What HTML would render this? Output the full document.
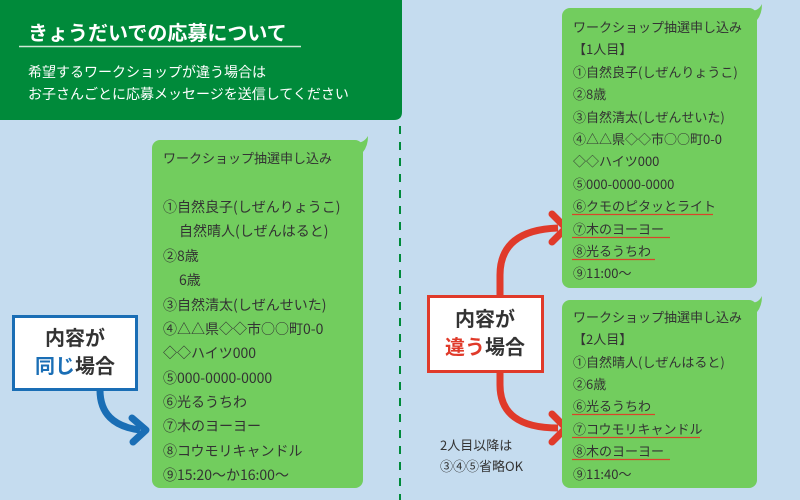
<!DOCTYPE html>
<html><head><meta charset="utf-8"><style>
body{margin:0;width:800px;height:500px;overflow:hidden;background:#c5dcef;}
svg{display:block;font-family:"Liberation Sans","Noto Sans CJK JP",sans-serif;}
.j{font-family:"Noto Sans CJK JP",sans-serif;}
</style></head><body>
<svg width="800" height="500" viewBox="0 0 800 500">
<rect width="800" height="500" fill="#c5dcef"/>
<path d="M0 0H402V112Q402 120 394 120H0Z" fill="#008a3a"/>
<text x="28" y="40" font-size="20" font-weight="bold" fill="#fff">きょうだいでの応募について</text>
<line x1="19" y1="46.5" x2="301" y2="46.5" stroke="#cfe8d6" stroke-width="1.5"/>
<text x="28" y="77" font-size="14" fill="#fff">希望するワークショップが違う場合は</text>
<text x="28" y="99" font-size="14" fill="#fff">お子さんごとに応募メッセージを送信してください</text>
<line x1="400" y1="126" x2="400" y2="500" stroke="#008a3a" stroke-width="2" stroke-dasharray="8 8"/>

<rect x="152" y="140" width="211" height="348" rx="8" fill="#72cd5e"/>
<path d="M350 141Q362 146 368 136Q368 146 363 152Z" fill="#72cd5e"/>
<g class="j" font-size="14" fill="#333">
<text x="163" y="163" font-size="13">ワークショップ抽選申し込み</text>
<text x="163" y="212">①自然良子(しぜんりょうこ)</text>
<text x="179" y="236">自然晴人(しぜんはると)</text>
<text x="163" y="261">②8歳</text>
<text x="179" y="285">6歳</text>
<text x="163" y="310">③自然清太(しぜんせいた)</text>
<text x="163" y="334">④△△県◇◇市○○町0-0</text>
<text x="163" y="358">◇◇ハイツ000</text>
<text x="163" y="383">⑤000-0000-0000</text>
<text x="163" y="407">⑥光るうちわ</text>
<text x="163" y="431">⑦木のヨーヨー</text>
<text x="163" y="456">⑧コウモリキャンドル</text>
<text x="163" y="480">⑨15:20〜か16:00〜</text>
</g>

<path d="M100 390Q100 425 140 430" fill="none" stroke="#1a6eb5" stroke-width="7"/>
<path d="M132 418L146 430L133 442" fill="none" stroke="#1a6eb5" stroke-width="7" stroke-linecap="round" stroke-linejoin="round"/>
<rect x="13.5" y="316.5" width="123" height="73" fill="#fff" stroke="#1a6eb5" stroke-width="3"/>
<text x="75" y="345" font-size="20" font-weight="bold" fill="#333" text-anchor="middle">内容が</text>
<text x="75" y="373" font-size="20" font-weight="bold" fill="#333" text-anchor="middle"><tspan fill="#1a6eb5">同じ</tspan>場合</text>

<path d="M500 296V275Q500 230 558 228" fill="none" stroke="#e03a2a" stroke-width="7"/>
<path d="M552 214L566 228L552 242" fill="none" stroke="#e03a2a" stroke-width="7" stroke-linecap="round" stroke-linejoin="round"/>
<path d="M500 372V385Q500 428 558 428" fill="none" stroke="#e03a2a" stroke-width="7"/>
<path d="M552 414L566 428L552 442" fill="none" stroke="#e03a2a" stroke-width="7" stroke-linecap="round" stroke-linejoin="round"/>
<rect x="428.5" y="296.5" width="114" height="75" fill="#fff" stroke="#e03a2a" stroke-width="3"/>
<text x="485" y="326" font-size="20" font-weight="bold" fill="#333" text-anchor="middle">内容が</text>
<text x="485" y="354" font-size="20" font-weight="bold" fill="#333" text-anchor="middle"><tspan fill="#e03a2a">違う</tspan>場合</text>
<text class="j" x="440" y="450" font-size="13" fill="#333">2人目以降は</text>
<text class="j" x="440" y="471" font-size="13" fill="#333">③④⑤省略OK</text>

<rect x="562" y="8" width="195" height="280" rx="8" fill="#72cd5e"/>
<path d="M745 9Q757 14 762 4Q762 14 757 20Z" fill="#72cd5e"/>
<g class="j" font-size="13" fill="#333">
<text x="573" y="32">ワークショップ抽選申し込み</text>
<text x="573" y="54">【1人目】</text>
<text x="573" y="77">①自然良子(しぜんりょうこ)</text>
<text x="573" y="99">②8歳</text>
<text x="573" y="122">③自然清太(しぜんせいた)</text>
<text x="573" y="144">④△△県◇◇市○○町0-0</text>
<text x="573" y="166">◇◇ハイツ000</text>
<text x="573" y="189">⑤000-0000-0000</text>
<text x="573" y="211">⑥クモのピタッとライト</text>
<text x="573" y="234">⑦木のヨーヨー</text>
<text x="573" y="256">⑧光るうちわ</text>
<text x="573" y="278">⑨11:00〜</text>
</g>
<g stroke="#d8452a" stroke-width="1.2">
<line x1="572" y1="214.5" x2="713" y2="214.5"/>
<line x1="572" y1="237.5" x2="670" y2="237.5"/>
<line x1="572" y1="259.5" x2="655" y2="259.5"/>
</g>

<rect x="562" y="300" width="195" height="188" rx="8" fill="#72cd5e"/>
<path d="M745 301Q757 306 762 296Q762 306 757 312Z" fill="#72cd5e"/>
<g class="j" font-size="13" fill="#333">
<text x="573" y="322">ワークショップ抽選申し込み</text>
<text x="573" y="344">【2人目】</text>
<text x="573" y="367">①自然晴人(しぜんはると)</text>
<text x="573" y="389">②6歳</text>
<text x="573" y="411">⑥光るうちわ</text>
<text x="573" y="434">⑦コウモリキャンドル</text>
<text x="573" y="456">⑧木のヨーヨー</text>
<text x="573" y="479">⑨11:40〜</text>
</g>
<g stroke="#d8452a" stroke-width="1.2">
<line x1="572" y1="414.5" x2="655" y2="414.5"/>
<line x1="572" y1="437.5" x2="700" y2="437.5"/>
<line x1="572" y1="459.5" x2="670" y2="459.5"/>
</g>
</svg>
</body></html>
